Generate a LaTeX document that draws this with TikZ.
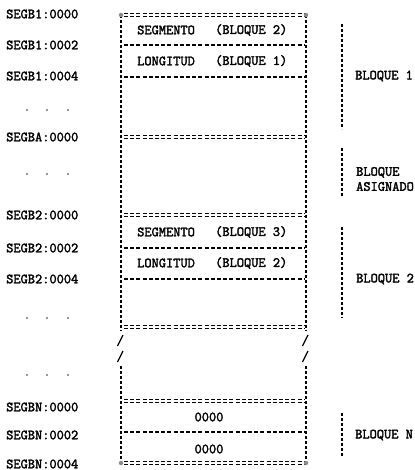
\documentclass[tikz,border=0pt]{standalone}
\usepackage{fontspec}
\newfontfamily\typo[FakeBold=2.2]{Latin Modern Mono}
\begin{document}
\begin{tikzpicture}[x=1pt,y=-1pt,
  addr/.style={font=\typo\fontsize{14}{15}\selectfont, anchor=west, inner sep=0pt},
  cell/.style={font=\typo\fontsize{14}{15}\selectfont, anchor=west, inner sep=0pt},
  lbl/.style={font=\typo\fontsize{14}{15}\selectfont, anchor=west, inner sep=0pt, align=left},
  sepline/.style={dash pattern=on 4pt off 2.2pt, line width=1.1pt},
  dblline/.style={dash pattern=on 4pt off 2.2pt, line width=1.1pt},
  vline/.style={dash pattern=on 3pt off 2pt, line width=1.3pt},
  dotmark/.style={circle, fill=black!55, inner sep=0pt, minimum size=2.2pt},
  corner/.style={circle, fill=black!45, inner sep=0pt, minimum size=4.5pt}]
\useasboundingbox (0,0) rectangle (414,470);

% left addresses
\node[addr] (a1) at (6,14) {SEGB1:0000};
\node[addr] (a2) at (6,45) {SEGB1:0002};
\node[addr] (a3) at (6,76) {SEGB1:0004};
\node[addr] (a4) at (6,137) {SEGBA:0000};
\node[addr] (a5) at (6,215) {SEGB2:0000};
\node[addr] (a6) at (6,248) {SEGB2:0002};
\node[addr] (a7) at (6,279) {SEGB2:0004};
\node[addr] (a8) at (6,407) {SEGBN:0000};
\node[addr] (a9) at (6,435) {SEGBN:0002};
\node[addr] (a10) at (6,464) {SEGBN:0004};

% ellipsis dots
\foreach \yy/\nm in {110/d1,174/d2,318/d3,375/d4}{
  \node[dotmark] (\nm a) at (27,\yy) {};
  \node[dotmark] (\nm b) at (47,\yy) {};
  \node[dotmark] (\nm c) at (68,\yy) {};
}

% box corners
\coordinate (tl) at (121,15);
\coordinate (tr) at (306,15);
\coordinate (bl) at (121,463);
\coordinate (br) at (306,463);
\coordinate (lb1) at (121,331);
\coordinate (lb2) at (121,366);
\coordinate (rb1) at (306,331);
\coordinate (rb2) at (306,366);

% vertical sides
\draw[vline] (tl) -- (lb1);
\draw[vline] (lb2) -- (bl);
\draw[vline] (tr) -- (rb1);
\draw[vline] (rb2) -- (br);
% break slashes
\draw[line width=1.3pt] (117.5,346) -- (123,335);
\draw[line width=1.3pt] (117.5,362) -- (123,351);
\draw[line width=1.3pt] (302.5,346) -- (308,335);
\draw[line width=1.3pt] (302.5,362) -- (308,351);

% horizontal lines
\foreach \yy in {15,137,215,327,401,463}{
  \draw[dblline] (124,\yy-1.5) -- (304,\yy-1.5);
  \draw[dblline] (124,\yy+1.5) -- (304,\yy+1.5);
}
\foreach \yy in {45,77,248,279,432}{
  \draw[sepline] (124,\yy) -- (304,\yy);
}
\node[corner] (c1) at (tl) {};
\node[corner] (c2) at (tr) {};
\node[corner] (c3) at (bl) {};
\node[corner] (c4) at (br) {};

% cell contents
\node[cell] (s1) at (137,30) {SEGMENTO};
\node[cell] (s1b) at (215,30) {(BLOQUE 2)};
\node[cell] (l1) at (137,61) {LONGITUD};
\node[cell] (l1b) at (215,61) {(BLOQUE 1)};
\node[cell] (s2) at (137,232) {SEGMENTO};
\node[cell] (s2b) at (215,232) {(BLOQUE 3)};
\node[cell] (l2) at (137,263) {LONGITUD};
\node[cell] (l2b) at (215,263) {(BLOQUE 2)};
\node[cell, anchor=center] (z1) at (209,417) {0000};
\node[cell, anchor=center] (z2) at (209,449) {0000};

% right brackets
\coordinate (b1t) at (342,24);
\coordinate (b1b) at (342,129);
\coordinate (b2t) at (342,148);
\coordinate (b2b) at (342,197);
\coordinate (b3t) at (342,227);
\coordinate (b3b) at (342,318);
\coordinate (b4t) at (342,413);
\coordinate (b4b) at (342,456);
\draw[vline] (b1t) -- (b1b);
\draw[vline] (b2t) -- (b2b);
\draw[vline] (b3t) -- (b3b);
\draw[vline] (b4t) -- (b4b);
\node[lbl] (r1) at (355,76) {BLOQUE 1};
\node[lbl] (r2) at (356,179) {BLOQUE\\ASIGNADO};
\node[lbl] (r3) at (356,279) {BLOQUE 2};
\node[lbl] (r4) at (355,435) {BLOQUE N};
\end{tikzpicture}
\end{document}
